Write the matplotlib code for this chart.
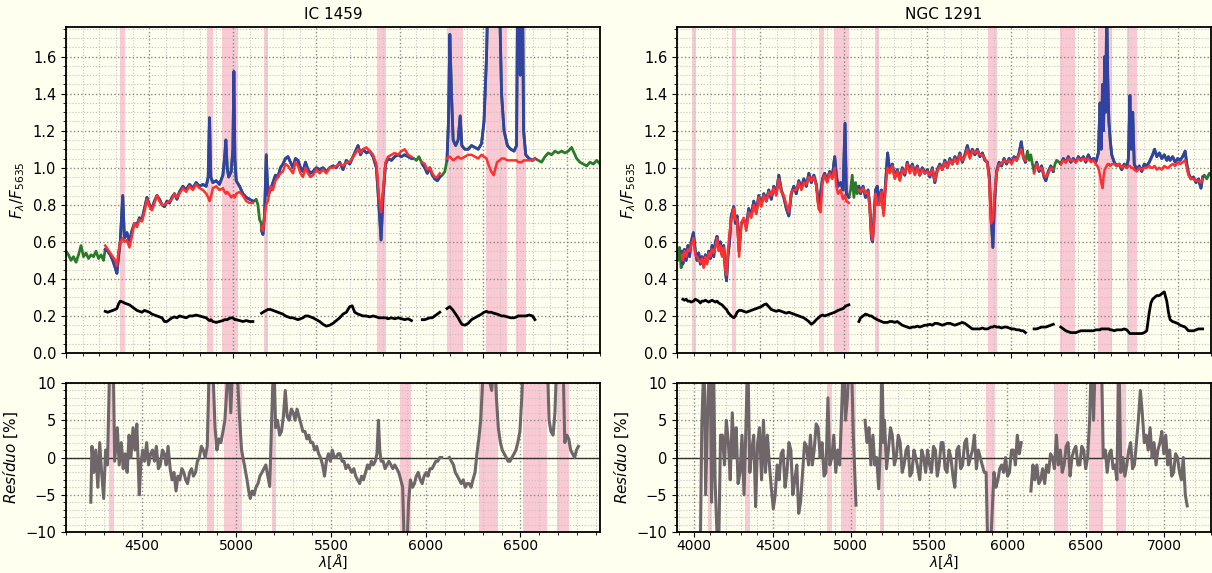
import numpy as np
import matplotlib.pyplot as plt
from matplotlib.ticker import MultipleLocator

nan = np.nan

# ---------------- IC 1459 : observed, model (nan = not fitted), error ----------------
ic_wave = [4000, 4015, 4030, 4045, 4060, 4075, 4090, 4105, 4120, 4135, 4150, 4165, 4180, 4195, 4210, 4225,
           4235, 4250, 4265, 4280, 4295, 4305, 4315, 4325, 4340, 4350, 4365, 4380, 4395, 4410, 4425, 4440,
           4455, 4470, 4485, 4500, 4515, 4530, 4545, 4560, 4575, 4590, 4605, 4620, 4635, 4650, 4665, 4680,
           4700, 4720, 4740, 4760, 4780, 4800, 4820, 4840, 4852, 4860, 4868, 4880, 4900, 4920, 4940, 4950,
           4958, 4966, 4975, 4990, 5000, 5006, 5012, 5020, 5040, 5060, 5080, 5100, 5120, 5128, 5140, 5150,
           5160, 5170, 5172, 5180, 5190, 5200, 5210, 5225, 5240, 5255, 5270, 5285, 5300, 5315, 5330, 5345,
           5360, 5375, 5390, 5405, 5420, 5435, 5450, 5465, 5480, 5500, 5520, 5540, 5560, 5580, 5600, 5620,
           5640, 5660, 5680, 5700, 5715, 5730, 5750, 5765, 5780, 5800, 5820, 5840, 5860, 5875, 5888, 5900,
           5915, 5930, 5950, 5970, 5990, 6010, 6030, 6050, 6070, 6085, 6100, 6115, 6135, 6150, 6165, 6180,
           6195, 6210, 6225, 6240, 6255, 6270, 6283, 6292, 6300, 6310, 6320, 6335, 6350, 6362, 6372, 6390,
           6410, 6430, 6450, 6470, 6490, 6505, 6520, 6530, 6548, 6563, 6583, 6598, 6610, 6625, 6645, 6665,
           6685, 6700, 6710, 6722, 6731, 6742, 6755, 6775, 6795, 6810, 6830, 6850, 6870, 6890, 6910, 6930,
           6950, 6970, 6990, 7010, 7030, 7045, 7060, 7080, 7100, 7120, 7140, 7160, 7180, 7200]
ic_obs = [0.55, 0.53, 0.50, 0.52, 0.49, 0.53, 0.58, 0.52, 0.54, 0.51, 0.53, 0.52, 0.55, 0.51, 0.53, 0.50,
          0.56, 0.55, 0.53, 0.50, 0.46, 0.43, 0.52, 0.60, 0.85, 0.62, 0.65, 0.60, 0.66, 0.70, 0.69, 0.73,
          0.72, 0.78, 0.84, 0.80, 0.78, 0.82, 0.85, 0.83, 0.80, 0.79, 0.82, 0.81, 0.84, 0.86, 0.83, 0.87,
          0.90, 0.88, 0.91, 0.89, 0.92, 0.90, 0.91, 0.90, 0.95, 1.27, 0.95, 0.92, 0.93, 0.91, 0.96, 1.05,
          1.15, 1.00, 0.95, 0.98, 1.10, 1.52, 1.05, 0.93, 0.90, 0.86, 0.84, 0.83, 0.82, 0.82, 0.83, 0.80,
          0.72, 0.70, 0.66, 0.64, 0.75, 1.07, 0.85, 0.88, 0.92, 0.96, 0.95, 1.00, 1.02, 1.05, 1.06, 1.03,
          1.00, 1.05, 1.04, 1.00, 0.98, 1.03, 0.99, 0.97, 0.98, 1.00, 0.99, 1.00, 0.98, 1.00, 1.01, 1.00,
          1.03, 0.99, 1.04, 1.02, 1.05, 1.08, 1.12, 1.07, 1.10, 1.08, 1.09, 1.06, 1.00, 0.80, 0.61, 0.85,
          1.02, 1.05, 1.04, 1.06, 1.07, 1.06, 1.07, 1.06, 1.05, 1.05, 1.04, 1.06, 1.02, 1.00, 0.97, 1.00,
          0.96, 0.94, 0.93, 0.95, 0.96, 0.98, 1.04, 1.25, 1.72, 1.40, 1.15, 1.12, 1.15, 1.28, 1.12, 1.10,
          1.10, 1.12, 1.11, 1.10, 1.13, 1.25, 1.60, 2.00, 2.50, 3.00, 2.50, 1.90, 1.40, 1.20, 1.12, 1.10,
          1.09, 1.12, 2.50, 1.50, 2.50, 1.20, 1.07, 1.05, 1.04, 1.05, 1.04, 1.03, 1.06, 1.08, 1.07, 1.09,
          1.08, 1.09, 1.08, 1.09, 1.11, 1.08, 1.05, 1.03, 1.02, 1.01, 1.03, 1.02, 1.04, 1.02]
ic_model = [nan] * 16 + [
          0.58, 0.56, 0.54, 0.52, 0.50, 0.47, 0.55, 0.60, 0.62, 0.60, 0.61, 0.57, 0.63, 0.70, 0.68, 0.72,
          0.71, 0.76, 0.83, 0.79, 0.77, 0.81, 0.85, 0.82, 0.80, 0.80, 0.81, 0.82, 0.83, 0.86, 0.84, 0.86,
          0.89, 0.87, 0.90, 0.88, 0.91, 0.89, 0.88, 0.86, 0.84, 0.82, 0.84, 0.89, 0.90, 0.88, 0.89, 0.87,
          0.86, 0.87, 0.86, 0.84, 0.85, 0.85, 0.84, 0.86, 0.87, 0.85, 0.82, 0.81, 0.81, nan, nan, nan,
          nan, nan, 0.68, 0.66, 0.74, 0.80, 0.82, 0.90, 0.88, 0.93, 0.95, 0.97, 0.98, 1.02, 1.01, 0.99,
          0.97, 1.03, 1.01, 0.97, 0.95, 1.00, 0.97, 0.95, 0.96, 0.99, 0.97, 0.99, 0.97, 1.00, 1.00, 1.01,
          1.02, 1.01, 1.03, 1.03, 1.05, 1.07, 1.10, 1.08, 1.10, 1.11, 1.09, 1.07, 1.02, 0.85, 0.76, 0.88,
          1.03, 1.06, 1.07, 1.08, 1.07, 1.09, 1.10, 1.07, 1.06, nan, nan, nan, 1.03, 1.02, 0.99, 1.00,
          0.97, 0.95, 0.95, 0.97, nan, nan, 1.05, 1.06, 1.06, 1.05, 1.04, 1.05, 1.06, 1.05, 1.05, 1.06,
          1.07, 1.07, 1.06, 1.05, 1.07, 1.06, 1.05, 1.02, 0.98, 0.96, 1.03, 1.04, 1.05, 1.05, 1.04, 1.04,
          1.04, 1.04, 1.03, 1.03, 1.03, 1.04, 1.04, 1.04, 1.04, 1.05] + [nan] * 20
ic_err = [nan] * 16 + [
          0.225, 0.22, 0.225, 0.23, 0.235, 0.24, 0.265, 0.28, 0.275, 0.27, 0.265, 0.26, 0.25, 0.24, 0.23, 0.225,
          0.22, 0.23, 0.225, 0.22, 0.21, 0.205, 0.20, 0.195, 0.19, 0.17, 0.17, 0.18, 0.19, 0.195, 0.19, 0.20,
          0.195, 0.19, 0.20, 0.20, 0.205, 0.20, 0.195, 0.19, 0.18, 0.175, 0.18, 0.17, 0.165, 0.17, 0.175, 0.18,
          0.18, 0.18, 0.185, 0.19, 0.19, 0.185, 0.18, 0.18, 0.175, 0.17, 0.175, 0.17, 0.17, nan, nan, nan,
          nan, nan, 0.215, 0.22, 0.225, 0.23, 0.235, 0.235, 0.23, 0.225, 0.22, 0.215, 0.21, 0.20, 0.195, 0.19,
          0.19, 0.185, 0.18, 0.185, 0.19, 0.20, 0.20, 0.195, 0.19, 0.18, 0.17, 0.155, 0.145, 0.15, 0.16, 0.175,
          0.19, 0.21, 0.22, 0.25, 0.255, 0.22, 0.21, 0.205, 0.20, 0.20, 0.195, 0.20, 0.195, 0.19, 0.19, 0.19,
          0.19, 0.185, 0.19, 0.185, 0.19, 0.185, 0.18, 0.185, 0.175, nan, nan, nan, 0.18, 0.18, 0.185, 0.19,
          0.19, 0.20, 0.21, 0.22, nan, nan, 0.24, 0.245, 0.25, 0.24, 0.23, 0.21, 0.19, 0.17, 0.155, 0.15,
          0.16, 0.18, 0.19, 0.20, 0.21, 0.22, 0.225, 0.22, 0.22, 0.215, 0.21, 0.205, 0.20, 0.20, 0.195, 0.19,
          0.19, 0.195, 0.20, 0.20, 0.20, 0.20, 0.20, 0.205, 0.20, 0.18] + [nan] * 20

ic_res_wave = [4231, 4237, 4247, 4257, 4268, 4278, 4288, 4299, 4309, 4319, 4330, 4340, 4350, 4357, 4371, 4381,
               4392, 4402, 4412, 4423, 4433, 4443, 4454, 4464, 4474, 4487, 4495, 4505, 4515, 4526, 4536, 4547,
               4557, 4567, 4577, 4588, 4598, 4609, 4619, 4629, 4639, 4650, 4660, 4670, 4681, 4691, 4701, 4712,
               4722, 4732, 4742, 4753, 4763, 4773, 4784, 4794, 4804, 4815, 4825, 4835, 4846, 4856, 4866, 4877,
               4887, 4897, 4908, 4918, 4929, 4939, 4949, 4959, 4970, 4980, 4990, 5000, 5015, 5027, 5042, 5056,
               5065, 5073, 5083, 5093, 5103, 5114, 5124, 5135, 5145, 5155, 5166, 5176, 5186, 5197, 5207, 5217,
               5228, 5238, 5248, 5258, 5268, 5279, 5290, 5300, 5310, 5320, 5330, 5341, 5351, 5362, 5372, 5382,
               5392, 5403, 5413, 5424, 5434, 5444, 5455, 5465, 5475, 5486, 5496, 5506, 5517, 5527, 5537, 5547,
               5558, 5568, 5578, 5589, 5599, 5609, 5620, 5630, 5640, 5651, 5661, 5671, 5682, 5692, 5702, 5713,
               5723, 5733, 5742, 5750, 5757, 5764, 5775, 5785, 5795, 5805, 5816, 5826, 5836, 5847, 5857, 5868,
               5878, 5888, 5898, 5909, 5919, 5930, 5940, 5950, 5960, 5971, 5981, 5991, 6002, 6012, 6022, 6033,
               6043, 6053, 6063, 6074, 6084, 6090, 6125, 6135, 6146, 6156, 6167, 6177, 6187, 6198, 6208, 6218,
               6229, 6239, 6249, 6260, 6270, 6280, 6290, 6300, 6311, 6330, 6348, 6363, 6373, 6383, 6394, 6404,
               6414, 6425, 6435, 6445, 6455, 6466, 6476, 6486, 6497, 6507, 6517, 6641, 6651, 6661, 6672, 6682,
               6693, 6724, 6734, 6745, 6755, 6765, 6775, 6786, 6796, 6806]
ic_res = [-6.0, 1.5, -2.0, 1.0, -4.0, 2.0, -2.0, -5.5, 1.0, -1.0, 12, 14, 12, -0.5, 4.0, -1.0,
          2.0, -1.5, 0.5, -2.0, 3.0, 0.0, 4.0, 1.0, 4.5, -5.0, -1.0, 1.0, -0.5, 2.0, -1.0, 0.5,
          1.0, -0.5, 1.5, -1.5, -1.0, 1.0, 0.5, -1.0, 1.5, -1.5, -3.0, -2.0, -4.5, -2.5, -3.0, -1.5,
          -2.0, -3.0, -3.5, -2.0, -1.5, -2.5, -2.0, -0.5, 0.0, 1.5, 1.0, 0.0, 1.5, 12, 14, 11,
          4.0, 1.0, 2.5, 2.0, 3.5, 5.0, 9.0, 14, 6.0, 12, 14, 14, 6.0, 1.0, -1.0, -3.0,
          -4.5, -5.5, -4.5, -5.0, -4.0, -3.5, -2.5, -2.0, -1.5, -1.0, -2.5, -3.9, 5.0, 14, 4.0, 5.0,
          3.0, 3.5, 5.5, 9.0, 5.5, 5.0, 6.5, 6.0, 5.0, 6.5, 5.5, 4.5, 3.5, 3.5, 2.5, 3.0,
          2.0, 2.0, 1.0, 1.5, 0.5, 0.0, -1.0, -2.5, -0.5, 0.5, -0.5, 1.0, 0.0, 0.0, 0.5, 0.5,
          -0.5, -0.5, -1.5, -1.0, -1.5, -2.0, -1.5, -2.5, -3.0, -3.5, -2.5, -3.0, -2.0, -1.0, -1.5, -0.5,
          -1.0, -0.5, 0.5, 5.0, 1.0, -0.5, -0.5, -1.5, -1.0, -0.5, -1.0, -1.5, -1.0, -1.5, -2.0, -3.0,
          -4.0, -14, -14, -6.0, -3.0, -4.0, -3.5, -2.5, -2.0, -3.0, -3.5, -2.5, -2.0, -2.5, -1.5, -1.5,
          -1.0, -0.5, -0.5, 0.0, 0.0, nan, 0.0, -0.5, -1.0, -2.0, -2.5, -3.0, -3.5, -3.0, -4.0, -3.5,
          -3.5, -4.0, -3.0, -2.0, 0.5, 2.5, 5.0, 10.0, 14, 11, 9.0, 14, 8.0, 4.0, 2.0, 1.0,
          0.5, 0.0, -0.5, -0.5, 0.0, 0.5, 1.0, 2.0, 3.5, 8.0, 14, 14, 5.0, 3.5, 3.0, 6.0,
          14, 14, 2.0, 3.0, 2.5, 1.0, 0.5, 0.0, 1.0, 1.5]

ic_mask = [(4326, 4354), (4846, 4883), (4934, 5031), (5186, 5209), (5862, 5920),
           (6282, 6381), (6515, 6642), (6695, 6756)]

# ---------------- NGC 1291 ----------------
ngc_wave = [3995, 4005, 4015, 4025, 4030, 4035, 4045, 4055, 4065, 4075, 4085, 4098, 4110, 4120, 4130, 4140,
            4150, 4160, 4170, 4180, 4190, 4200, 4210, 4220, 4230, 4240, 4250, 4260, 4270, 4280, 4290, 4297,
            4305, 4315, 4325, 4340, 4350, 4360, 4372, 4385, 4400, 4415, 4430, 4445, 4460, 4475, 4490, 4505,
            4520, 4535, 4550, 4565, 4580, 4595, 4610, 4625, 4640, 4655, 4670, 4685, 4700, 4715, 4730, 4745,
            4760, 4775, 4790, 4805, 4820, 4835, 4848, 4860, 4872, 4885, 4900, 4915, 4930, 4945, 4955, 4965,
            4980, 4995, 5007, 5015, 5030, 5040, 5050, 5060, 5070, 5080, 5090, 5100, 5115, 5130, 5145, 5155,
            5165, 5172, 5180, 5190, 5200, 5212, 5225, 5238, 5250, 5262, 5275, 5290, 5305, 5320, 5335, 5350,
            5365, 5380, 5395, 5410, 5425, 5440, 5455, 5470, 5485, 5500, 5515, 5530, 5545, 5560, 5575, 5590,
            5605, 5620, 5635, 5650, 5665, 5680, 5695, 5710, 5725, 5740, 5755, 5770, 5785, 5800, 5815, 5830,
            5845, 5860, 5872, 5881, 5893, 5902, 5915, 5930, 5945, 5960, 5975, 5990, 6005, 6020, 6035, 6050,
            6063, 6075, 6088, 6092, 6100, 6110, 6120, 6130, 6140, 6155, 6170, 6185, 6200, 6210, 6225, 6240,
            6255, 6265, 6275, 6290, 6300, 6315, 6330, 6345, 6360, 6375, 6390, 6405, 6420, 6435, 6450, 6465,
            6480, 6495, 6510, 6525, 6535, 6542, 6550, 6556, 6563, 6569, 6575, 6581, 6588, 6596, 6605, 6620,
            6635, 6650, 6665, 6680, 6695, 6705, 6714, 6722, 6731, 6740, 6755, 6770, 6785, 6800, 6815, 6830,
            6840, 6850, 6862, 6875, 6890, 6905, 6920, 6935, 6945, 6955, 6970, 6985, 7000, 7015, 7030, 7045,
            7055, 7065, 7080, 7095, 7110, 7125, 7140, 7150, 7160, 7175, 7190, 7205]
ngc_obs = [0.55, 0.50, 0.57, 0.46, 0.55, 0.48, 0.56, 0.50, 0.58, 0.52, 0.60, 0.65, 0.55, 0.50, 0.54, 0.48,
           0.52, 0.47, 0.53, 0.49, 0.55, 0.51, 0.58, 0.52, 0.60, 0.63, 0.57, 0.60, 0.53, 0.58, 0.44, 0.39,
           0.52, 0.60, 0.74, 0.79, 0.70, 0.74, 0.55, 0.70, 0.72, 0.68, 0.78, 0.74, 0.82, 0.76, 0.85, 0.80,
           0.86, 0.82, 0.88, 0.83, 0.90, 0.86, 0.96, 0.88, 0.84, 0.78, 0.74, 0.86, 0.90, 0.86, 0.93, 0.89,
           0.94, 0.90, 0.97, 0.92, 0.96, 0.91, 0.80, 0.86, 0.94, 0.97, 0.93, 0.98, 0.95, 1.06, 0.96, 0.90,
           0.92, 0.88, 1.24, 0.86, 0.84, 0.88, 0.96, 0.84, 0.92, 0.86, 0.90, 0.86, 0.90, 0.84, 0.88, 0.80,
           0.62, 0.60, 0.72, 0.88, 0.90, 0.82, 0.88, 0.76, 0.92, 1.08, 0.98, 1.02, 0.95, 0.99, 0.94, 1.00,
           0.96, 1.03, 0.98, 1.02, 0.97, 1.01, 0.96, 1.00, 0.97, 0.99, 0.95, 1.00, 0.92, 0.99, 1.02, 0.99,
           1.04, 1.00, 1.05, 1.02, 1.06, 1.03, 1.08, 1.03, 1.07, 1.12, 1.06, 1.10, 1.07, 1.10, 1.06, 1.08,
           1.04, 1.03, 0.95, 0.75, 0.57, 0.80, 0.98, 1.03, 1.01, 1.05, 1.02, 1.05, 1.03, 1.06, 1.04, 1.08,
           1.14, 1.06, 1.03, 1.05, 1.09, 1.04, 1.07, 1.02, 0.98, 1.03, 0.98, 1.01, 0.95, 0.93, 0.98, 1.01,
           0.98, 1.02, 1.04, 1.03, 1.02, 1.05, 1.03, 1.06, 1.03, 1.05, 1.03, 1.06, 1.04, 1.06, 1.03, 1.07,
           1.04, 1.05, 1.03, 1.08, 1.35, 1.10, 1.45, 1.20, 1.60, 1.30, 1.90, 1.50, 1.25, 1.15, 1.07, 1.03,
           1.01, 1.02, 0.99, 1.02, 1.00, 1.05, 1.39, 1.10, 1.30, 1.02, 0.99, 1.01, 0.98, 1.02, 1.01, 1.03,
           1.05, 1.07, 1.10, 1.06, 1.08, 1.05, 1.07, 1.04, 1.06, 1.04, 1.06, 1.03, 1.05, 1.04, 1.06, 1.09,
           1.02, 0.97, 0.94, 0.95, 0.92, 0.94, 0.89, 0.95, 0.96, 0.94, 0.97, 0.95]
ngc_model = [nan] * 4 + [
           0.53, 0.50, 0.55, 0.52, 0.56, 0.55, 0.58, 0.62, 0.53, 0.52, 0.50, 0.49,
           0.51, 0.46, 0.52, 0.48, 0.54, 0.52, 0.56, 0.54, 0.57, 0.62, 0.55, 0.58, 0.52, 0.57, 0.45, 0.42,
           0.55, 0.65, 0.72, 0.78, 0.72, 0.72, 0.52, 0.70, 0.73, 0.66, 0.76, 0.73, 0.80, 0.75, 0.84, 0.79,
           0.85, 0.82, 0.87, 0.85, 0.89, 0.85, 0.94, 0.87, 0.85, 0.80, 0.76, 0.87, 0.88, 0.88, 0.92, 0.88,
           0.92, 0.91, 0.95, 0.93, 0.95, 0.90, 0.78, 0.76, 0.92, 0.96, 0.92, 0.97, 0.94, 1.00, 0.90, 0.86,
           0.88, 0.83, 0.85, 0.82, 0.81, nan, nan, nan, nan, nan, 0.88, 0.87, 0.89, 0.86, 0.87, 0.78,
           0.64, 0.61, 0.70, 0.86, 0.80, 0.80, 0.87, 0.74, 0.90, 1.00, 0.97, 1.01, 0.94, 0.98, 0.93, 0.99,
           0.97, 1.02, 0.97, 1.01, 0.96, 1.00, 0.96, 0.99, 0.97, 0.98, 0.96, 0.99, 0.93, 0.98, 1.01, 0.99,
           1.03, 1.00, 1.04, 1.02, 1.05, 1.02, 1.07, 1.04, 1.06, 1.10, 1.05, 1.09, 1.08, 1.09, 1.07, 1.07,
           1.05, 1.02, 0.92, 0.70, 0.72, 0.85, 0.97, 1.02, 1.02, 1.04, 1.03, 1.04, 1.02, 1.05, 1.04, 1.07,
           1.10, 1.06, 1.04, nan, nan, nan, nan, nan, 0.97, 1.02, 0.99, 1.00, 0.96, 0.95, 0.97, 1.00,
           0.99, nan, nan, nan, 1.02, 1.04, 1.03, 1.05, 1.04, 1.04, 1.03, 1.05, 1.04, 1.05, 1.04, 1.05,
           1.03, 1.04, 1.02, 1.00, 0.96, 0.92, 0.89, 0.95, 0.99, 1.00, 1.01, 1.02, 1.02, 1.01, 1.02, 1.02,
           1.01, 1.02, 1.00, 1.01, 1.00, 1.01, 1.01, 1.00, 1.00, 0.99, 0.98, 1.00, 0.99, 1.00, 1.00, 1.01,
           1.00, 1.00, 1.01, 0.99, 1.00, 0.99, 1.01, 1.00, 1.00, 1.01, 1.02, 1.01, 1.03, 1.02, 1.03, 1.04,
           1.00, 0.96, 0.94, 0.94, 0.93, 0.93, 0.92, 0.94] + [nan] * 4
ngc_err = [nan] * 5 + [
           0.29, 0.285, 0.29, 0.28, 0.28, 0.275, 0.28, 0.29, 0.285, 0.28, 0.27,
           0.28, 0.28, 0.285, 0.28, 0.275, 0.28, 0.285, 0.28, 0.275, 0.28, 0.27, 0.265, 0.26, 0.25, 0.24, 0.235,
           0.22, 0.21, 0.20, 0.19, 0.20, 0.22, 0.23, 0.23, 0.225, 0.22, 0.225, 0.23, 0.235, 0.24, 0.245, 0.25,
           0.26, 0.265, 0.25, 0.235, 0.23, 0.225, 0.23, 0.225, 0.22, 0.215, 0.22, 0.215, 0.21, 0.205, 0.20, 0.195,
           0.19, 0.18, 0.17, 0.155, 0.165, 0.18, 0.19, 0.20, 0.205, 0.20, 0.205, 0.21, 0.215, 0.22, 0.225, 0.23,
           0.235, 0.24, 0.25, 0.255, 0.26, nan, nan, nan, nan, nan, 0.17, 0.19, 0.20, 0.21, 0.205, 0.20,
           0.20, 0.195, 0.19, 0.185, 0.18, 0.175, 0.17, 0.165, 0.165, 0.165, 0.17, 0.17, 0.165, 0.17, 0.16, 0.15,
           0.145, 0.14, 0.135, 0.14, 0.14, 0.145, 0.14, 0.145, 0.15, 0.15, 0.155, 0.15, 0.16, 0.16, 0.155, 0.15,
           0.155, 0.16, 0.16, 0.155, 0.15, 0.155, 0.16, 0.165, 0.16, 0.15, 0.14, 0.13, 0.13, 0.13, 0.13, 0.135,
           0.13, 0.13, 0.135, 0.14, 0.14, 0.145, 0.14, 0.14, 0.135, 0.14, 0.14, 0.135, 0.13, 0.13, 0.125, 0.125,
           0.12, 0.12, 0.11, nan, nan, nan, nan, nan, 0.13, 0.13, 0.135, 0.14, 0.14, 0.14, 0.145, 0.15,
           0.155, nan, nan, nan, 0.14, 0.13, 0.12, 0.115, 0.11, 0.11, 0.11, 0.115, 0.12, 0.12, 0.12, 0.12,
           0.12, 0.12, 0.125, 0.125, 0.125, 0.13, 0.13, 0.13, 0.13, 0.13, 0.13, 0.13, 0.13, 0.125, 0.125, 0.12,
           0.125, 0.125, 0.125, 0.13, 0.125, 0.115, 0.105, 0.105, 0.105, 0.105, 0.105, 0.105, 0.105, 0.11, 0.12, 0.22,
           0.27, 0.29, 0.30, 0.31, 0.31, 0.32, 0.33, 0.28, 0.22, 0.18, 0.17, 0.165, 0.16, 0.15, 0.145, 0.14,
           0.13, 0.12, 0.12, 0.12, 0.125, 0.13, 0.13, 0.13] + [nan] * 4

ngc_res_wave = [4031, 4038, 4048, 4063, 4073, 4088, 4101, 4111, 4123, 4133, 4143, 4155, 4168, 4180, 4193, 4205,
                4218, 4230, 4243, 4255, 4268, 4280, 4293, 4305, 4318, 4330, 4342, 4355, 4367, 4380, 4392, 4405,
                4417, 4430, 4442, 4455, 4467, 4480, 4492, 4505, 4517, 4530, 4542, 4555, 4567, 4580, 4592, 4605,
                4617, 4630, 4642, 4655, 4667, 4679, 4692, 4705, 4717, 4730, 4742, 4754, 4766, 4779, 4791, 4804,
                4816, 4829, 4841, 4854, 4866, 4879, 4891, 4904, 4916, 4929, 4941, 4953, 4966, 4978, 4991, 5003,
                5016, 5033, 5040, 5091, 5103, 5116, 5128, 5141, 5153, 5165, 5178, 5190, 5198, 5208, 5215, 5228,
                5240, 5253, 5265, 5278, 5290, 5303, 5315, 5328, 5340, 5353, 5365, 5378, 5390, 5403, 5415, 5428,
                5440, 5453, 5465, 5478, 5490, 5503, 5515, 5528, 5540, 5552, 5564, 5577, 5589, 5602, 5614, 5627,
                5639, 5652, 5664, 5677, 5689, 5702, 5714, 5727, 5739, 5752, 5764, 5777, 5789, 5802, 5814, 5827,
                5839, 5852, 5864, 5876, 5889, 5901, 5914, 5927, 5939, 5951, 5963, 5976, 5988, 6001, 6013, 6026,
                6038, 6051, 6063, 6076, 6088, 6095, 6150, 6163, 6175, 6188, 6200, 6213, 6225, 6238, 6250, 6263,
                6275, 6288, 6300, 6313, 6325, 6338, 6350, 6362, 6375, 6387, 6400, 6412, 6425, 6437, 6450, 6462,
                6475, 6487, 6500, 6512, 6525, 6537, 6550, 6562, 6575, 6600, 6612, 6625, 6637, 6650, 6662, 6675,
                6687, 6699, 6712, 6724, 6737, 6750, 6762, 6775, 6787, 6799, 6811, 6824, 6836, 6849, 6861, 6874,
                6886, 6899, 6911, 6924, 6936, 6949, 6961, 6974, 6986, 6999, 7011, 7024, 7036, 7049, 7061, 7074,
                7086, 7099, 7111, 7123, 7136, 7148]
ngc_res = [-14, -14, 4.0, 14, -5.0, 8.0, 14, -6.0, 14, -3.0, -9.0, -14, 3.0, 3.0, -1.0, 5.0,
           2.0, -3.0, 6.0, 0.0, 4.0, -3.5, -2.0, 3.0, -5.0, 4.0, 14, -2.0, 1.0, 3.0, -6.6, 2.0,
           4.0, -3.0, 5.0, -2.0, 3.0, -1.0, -4.0, -6.9, -5.0, -1.0, -3.0, 0.5, 1.0, -4.0, -2.0, 2.0,
           1.0, -5.0, -3.0, -1.0, -7.5, -6.0, -2.0, 2.0, 1.5, -1.0, 3.0, -1.0, 1.0, 4.5, 4.0, 0.0,
           2.0, -2.5, -2.0, 8.0, -1.0, 0.0, 3.0, -2.0, 1.0, -1.0, 6.0, 14, 5.0, 8.0, 14, 14,
           3.0, -6.4, nan, 5.0, 2.0, 4.0, -1.0, 3.0, -1.0, 0.0, -4.2, 2.0, 14, 2.0, 5.0, -1.5,
           1.0, 4.0, 3.0, -1.0, 0.0, 3.0, 2.0, -2.0, -1.0, 1.0, 1.5, -2.5, -2.0, 1.0, 0.0, -1.5,
           -3.0, 1.0, 0.0, -2.0, 1.0, -1.0, -2.0, 1.5, 1.0, -2.5, -1.0, 2.0, 2.0, -1.5, -2.0, 1.0,
           0.0, -2.5, -4.0, 1.0, 1.5, -1.5, -1.0, 2.0, 2.5, -1.0, 0.0, 1.0, 3.0, -1.5, 1.0, 0.0,
           -1.0, -2.0, -2.0, -14, -14, -8.0, -2.0, -4.0, -3.0, -1.5, -1.0, -2.0, 0.0, -2.5, -2.0, 1.0,
           1.0, -1.0, 3.0, 0.5, 2.0, nan, -4.5, -1.0, -3.0, -1.0, -3.5, -3.0, -1.5, -3.5, -1.0, -2.0,
           0.5, 0.0, -1.5, 3.0, -1.0, 1.0, -2.0, -1.0, 1.5, 2.0, -2.5, 0.0, 1.0, 1.5, -1.0, -1.0,
           1.5, 1.0, -1.5, 0.0, 5.0, 14, 5.0, 14, 14, 14, 0.0, 1.0, -2.0, 0.5, 1.0, -1.5,
           -1.0, -3.0, 14, -2.0, 0.0, -2.5, -1.0, 1.0, 2.0, -1.5, -1.0, 2.0, 5.0, 9.0, 6.0, 2.0,
           3.0, 1.0, 4.0, 0.0, 2.0, -1.0, 1.0, 2.0, 3.5, 0.5, 3.0, -1.0, 1.0, -2.5, -2.0, 0.5,
           0.0, -2.0, -3.0, 0.0, -5.0, -6.5]

ngc_mask = [(4090, 4115), (4327, 4353), (4849, 4880), (4938, 5030), (5188, 5209),
            (5866, 5918), (6298, 6385), (6521, 6608), (6694, 6755)]

bg = '#fffff0'
c_obs, c_fit, c_mod, c_err = '#2a7a2a', '#3142a3', '#ff3030', 'black'
c_res, c_mask = '#6e6668', '#f9cad3'


def style(ax, major, minor):
    ax.set_facecolor(bg)
    ax.set_axisbelow(True)
    ax.xaxis.set_major_locator(MultipleLocator(500))
    ax.xaxis.set_minor_locator(MultipleLocator(100))
    ax.yaxis.set_major_locator(MultipleLocator(major))
    ax.yaxis.set_minor_locator(MultipleLocator(minor))
    ax.grid(which='major', ls=':', color='#888888', lw=1.0)
    ax.grid(which='minor', ls=':', color='#c4c4c4', lw=0.8)
    for s in ax.spines.values():
        s.set_linewidth(1.3)
    ax.tick_params(labelsize=10.5)
    ax.tick_params(axis='x', labelsize=10, pad=1.5)


fig = plt.figure(figsize=(12.12, 5.73), dpi=100, facecolor=bg)

panels = [('IC 1459', ic_wave, ic_obs, ic_model, ic_err, ic_res_wave, ic_res, ic_mask, 66, (4100, 6920)),
          ('NGC 1291', ngc_wave, ngc_obs, ngc_model, ngc_err, ngc_res_wave, ngc_res, ngc_mask, 677, (3890, 7300))]

for name, wave, obs, model, err, rwave, res, mask, x0, rlim in panels:
    wave = np.array(wave, dtype=float)
    obs = np.array(obs)
    model = np.array(model)
    fitted = np.where(np.isnan(model), np.nan, obs)

    # spectrum + fit
    ax = fig.add_axes([x0 / 1212, 1 - 353 / 573, 534 / 1212, 326 / 573])
    style(ax, 0.2, 0.05)
    for a, b in mask:
        ax.axvspan(a, b, color=c_mask, lw=0, zorder=0.3)
    ax.plot(wave, obs, color=c_obs, lw=2)
    ax.plot(wave, fitted, color=c_fit, lw=2)
    ax.plot(wave, model, color=c_mod, lw=1.8)
    ax.plot(wave, err, color=c_err, lw=2)
    ax.set_xlim(4000, 7200)
    ax.set_ylim(0, 1.76)
    ax.tick_params(labelbottom=False)
    ax.set_ylabel(r'$F_\lambda/F_{5635}$', fontsize=11)
    ax.set_title(name, fontsize=11)

    # residuals
    axr = fig.add_axes([x0 / 1212, 1 - 532 / 573, 534 / 1212, 149 / 573])
    style(axr, 5, 1)
    for a, b in mask:
        axr.axvspan(a, b, color=c_mask, lw=0, zorder=0.3)
    axr.axhline(0, color='#333333', lw=1.0)
    axr.plot(rwave, res, color=c_res, lw=2.2)
    axr.set_xlim(*rlim)
    axr.set_ylim(-10, 10)
    axr.set_ylabel(r'$Resíduo$ [%]', fontsize=11)
    axr.set_xlabel(r'$\lambda[\AA]$', fontsize=10, labelpad=0)

fig.savefig('out.png', dpi=100, facecolor=bg)
